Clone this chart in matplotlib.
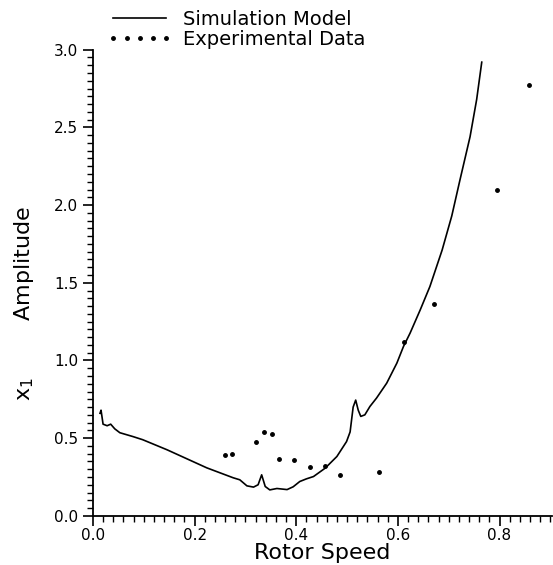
import matplotlib
matplotlib.use("Agg")
from matplotlib import pyplot as plt
from matplotlib.ticker import MultipleLocator
import numpy as np

# simulation model (rotor speed, x1 amplitude)
sim_speed = [0.014, 0.016, 0.020, 0.028, 0.035, 0.043, 0.053, 0.079, 0.098,
             0.146, 0.185, 0.224, 0.250, 0.276, 0.289, 0.303, 0.316, 0.325,
             0.332, 0.339, 0.348, 0.362, 0.382, 0.394, 0.407, 0.420, 0.434,
             0.457, 0.480, 0.499, 0.506, 0.512, 0.517, 0.522, 0.527, 0.535,
             0.545, 0.558, 0.578, 0.598, 0.611, 0.624, 0.644, 0.663,
             0.687, 0.706, 0.722, 0.742, 0.755, 0.765]
sim_amp = [0.66, 0.68, 0.59, 0.58, 0.59, 0.56, 0.535, 0.51, 0.49,
           0.425, 0.367, 0.309, 0.277, 0.245, 0.232, 0.193, 0.185, 0.20,
           0.264, 0.189, 0.167, 0.176, 0.169, 0.187, 0.221, 0.238, 0.253,
           0.307, 0.382, 0.478, 0.54, 0.70, 0.745, 0.68, 0.64, 0.65,
           0.704, 0.758, 0.854, 0.983, 1.09, 1.176, 1.326, 1.476,
           1.71, 1.93, 2.16, 2.44, 2.68, 2.92]

# experimental points
exp_speed = [0.260, 0.274, 0.321, 0.337, 0.352, 0.367, 0.396, 0.427, 0.457,
             0.487, 0.563, 0.612, 0.671, 0.795, 0.858]
exp_amp = [0.39, 0.40, 0.475, 0.54, 0.526, 0.365, 0.358, 0.315, 0.324,
           0.262, 0.28, 1.12, 1.363, 2.095, 2.77]

fig = plt.figure(figsize=(5.53, 5.65), dpi=100)
ax = fig.add_axes([0.168, 0.087, 0.830, 0.825])

ax.plot(sim_speed, sim_amp, "k-", lw=1.2, label="Simulation Model")
ax.plot(exp_speed, exp_amp, "k.", ms=5, ls="none", label="Experimental Data")

ax.set_xlim(0, 0.903)
ax.set_ylim(0, 3.0)
ax.xaxis.set_major_locator(MultipleLocator(0.2))
ax.xaxis.set_minor_locator(MultipleLocator(0.02))
ax.yaxis.set_major_locator(MultipleLocator(0.5))
ax.yaxis.set_minor_locator(MultipleLocator(0.05))
ax.xaxis.set_major_formatter(plt.FormatStrFormatter("%.1f"))
ax.yaxis.set_major_formatter(plt.FormatStrFormatter("%.1f"))
ax.tick_params(which="major", direction="out", length=7, width=1.2, labelsize=11)
ax.tick_params(which="minor", direction="out", length=4, width=1.0)
ax.tick_params(axis="x", pad=2)

for s in ["top", "right"]:
    ax.spines[s].set_visible(False)
for s in ["left", "bottom"]:
    ax.spines[s].set_linewidth(1.3)

ax.set_xlabel("Rotor Speed", fontsize=16, labelpad=0)
ax.set_ylabel(r"x$_\mathregular{1}$        Amplitude", fontsize=16, labelpad=14)
ax.yaxis.set_label_coords(-0.125, 0.455)

ax.legend(loc="lower left", bbox_to_anchor=(0.015, 0.985), frameon=False,
          fontsize=14, handlelength=3.3, numpoints=5, borderaxespad=0,
          labelspacing=0.05, handletextpad=0.6)

fig.savefig("out.png", dpi=100)
